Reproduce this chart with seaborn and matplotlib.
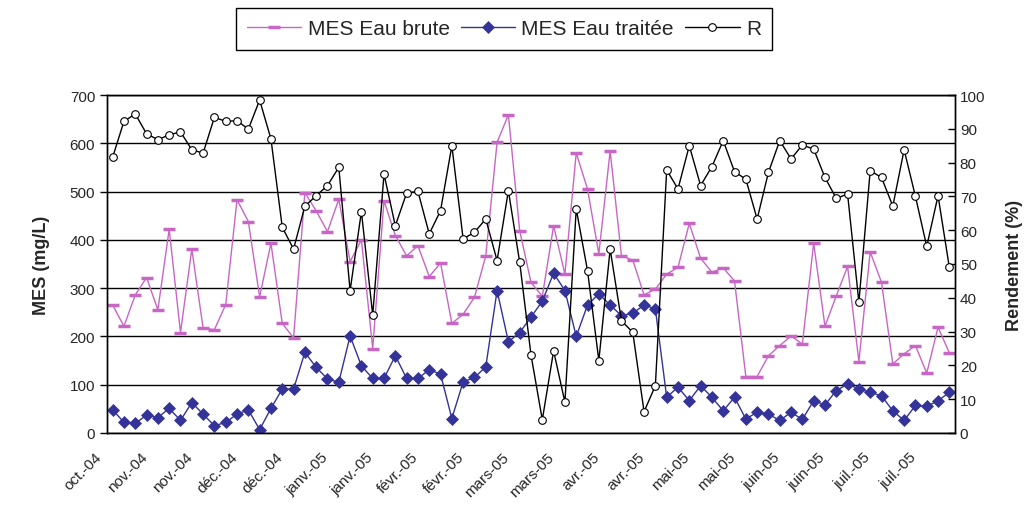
import matplotlib
matplotlib.use('Agg')
import matplotlib.pyplot as plt
import matplotlib.transforms as mtransforms
import numpy as np
import pandas as pd
import seaborn as sns

# MES (mg/L), eau brute / eau traitee, and rendement R (%)
mes_brute = [265, 221, 286, 322, 255, 422, 208, 381, 217, 214,
             266, 483, 438, 282, 393, 227, 197, 498, 460, 417,
             484, 355, 400, 175, 481, 409, 367, 388, 324, 352,
             227, 246, 281, 367, 602, 659, 419, 312, 283, 429,
             329, 580, 505, 371, 584, 367, 358, 286, 298, 329,
             343, 434, 362, 333, 342, 315, 117, 117, 160, 181,
             201, 184, 393, 221, 284, 345, 148, 375, 312, 143,
             164, 181, 124, 219, 166]
mes_traitee = [48, 22, 20, 37, 32, 51, 26, 63, 39, 15,
               22, 39, 48, 7, 51, 91, 91, 167, 136, 112,
               105, 201, 139, 113, 113, 160, 113, 113, 131, 122,
               30, 106, 115, 137, 295, 189, 208, 240, 273, 331,
               295, 200, 265, 288, 265, 243, 248, 265, 257, 74,
               95, 67, 98, 74, 46, 74, 29, 43, 39, 26,
               43, 28, 67, 58, 88, 101, 91, 84, 77, 46,
               26, 57, 55, 67, 84]
rendement = [81.6, 92.2, 94.4, 88.5, 86.8, 88.2, 89.1, 83.8, 82.8, 93.4,
             92.2, 92.4, 89.9, 98.5, 87.0, 60.9, 54.4, 67.1, 70.2, 73.2,
             78.6, 42.1, 65.5, 34.9, 76.6, 61.3, 71.0, 71.5, 58.9, 65.8,
             85.0, 57.4, 59.4, 63.3, 51.0, 71.7, 50.5, 23.1, 3.9, 24.3,
             9.1, 66.3, 48.0, 21.4, 54.4, 33.2, 29.8, 6.3, 14.0, 77.8,
             72.2, 85.0, 73.2, 78.8, 86.5, 77.3, 75.1, 63.3, 77.1, 86.5,
             81.1, 85.2, 84.0, 75.6, 69.4, 70.7, 38.7, 77.6, 75.6, 67.1,
             83.8, 70.0, 55.2, 70.2, 49.0]
date_labels = ['oct.-04', 'nov.-04', 'nov.-04', 'déc.-04', 'déc.-04',
               'janv.-05', 'janv.-05', 'févr.-05', 'févr.-05', 'mars-05',
               'mars-05', 'avr.-05', 'avr.-05', 'mai-05', 'mai-05',
               'juin-05', 'juin-05', 'juil.-05', 'juil.-05']

sns.set_style('white')
plt.rcParams['font.family'] = ['Liberation Sans', 'DejaVu Sans']

df = pd.DataFrame({'n': np.arange(len(mes_brute)), 'brute': mes_brute,
                   'traitee': mes_traitee, 'R': rendement})

fig = plt.figure(figsize=(10.32, 5.10), dpi=100)
ax = fig.add_axes([107 / 1032, 76 / 510, 848 / 1032, 338 / 510])
ax2 = ax.twinx()

sns.lineplot(data=df, x='n', y='brute', ax=ax, color='#C766C4', lw=1.0, marker='_',
             markersize=9, markeredgewidth=2.5, markeredgecolor='#C766C4', label='MES Eau brute')
sns.lineplot(data=df, x='n', y='traitee', ax=ax, color='#333399', lw=1.0, marker='D',
             markersize=6, markeredgewidth=0.5, markeredgecolor='#333399', label='MES Eau traitée')
sns.lineplot(data=df, x='n', y='R', ax=ax2, color='black', lw=1.0, marker='o', markersize=5.5,
             markerfacecolor='white', markeredgecolor='black', markeredgewidth=0.8, label='R')

h1, l1 = ax.get_legend_handles_labels()
h2, l2 = ax2.get_legend_handles_labels()
ax.legend_.remove()
ax2.legend_.remove()
leg = fig.legend(h1 + h2, l1 + l2, loc='upper center', bbox_to_anchor=(504 / 1032, 1 - 9 / 510),
                 ncol=3, frameon=True, fancybox=False, edgecolor='black', framealpha=1,
                 fontsize=15, handlelength=2.6, handletextpad=0.3, columnspacing=0.55,
                 borderpad=0.55, borderaxespad=0)
leg.get_frame().set_linewidth(1.0)

# axes
ax.set_xlim(-0.5, 74.5)
ax.set_ylim(0, 700)
ax.set_yticks(range(0, 701, 100))
ax2.set_ylim(0, 100)
ax2.set_yticks(range(0, 101, 10))
ax.grid(axis='y', color='black', lw=1)
ax.grid(axis='x', visible=False)
ax2.grid(False)

ax.set_xticks(range(0, 75, 4))
ax.set_xticklabels(date_labels, rotation=45, ha='right', rotation_mode='anchor', fontsize=11)
ax.set_xticks(np.arange(-0.5, 75, 1), minor=True)
ax.tick_params(axis='x', which='major', length=0, pad=12)
ax.tick_params(axis='x', which='minor', direction='inout', length=7, width=1, color='black')
ax.tick_params(axis='y', direction='out', length=5, width=1, color='black', labelsize=11, left=True)
ax2.tick_params(axis='y', direction='in', length=5, width=1, color='black', labelsize=11, right=True)
offset = mtransforms.ScaledTranslation(-0.18, 0, fig.dpi_scale_trans)
for lbl in ax.get_xticklabels():
    lbl.set_transform(lbl.get_transform() + offset)

ax.set_xlabel('')
ax.set_ylabel('MES (mg/L)', fontsize=13, fontweight='bold', labelpad=14)
ax2.set_ylabel('Rendement (%)', fontsize=13, fontweight='bold', labelpad=15)

for a in [ax, ax2]:
    for s in a.spines.values():
        s.set_color('black')
        s.set_linewidth(1)

plt.savefig('out.png', dpi=100)
